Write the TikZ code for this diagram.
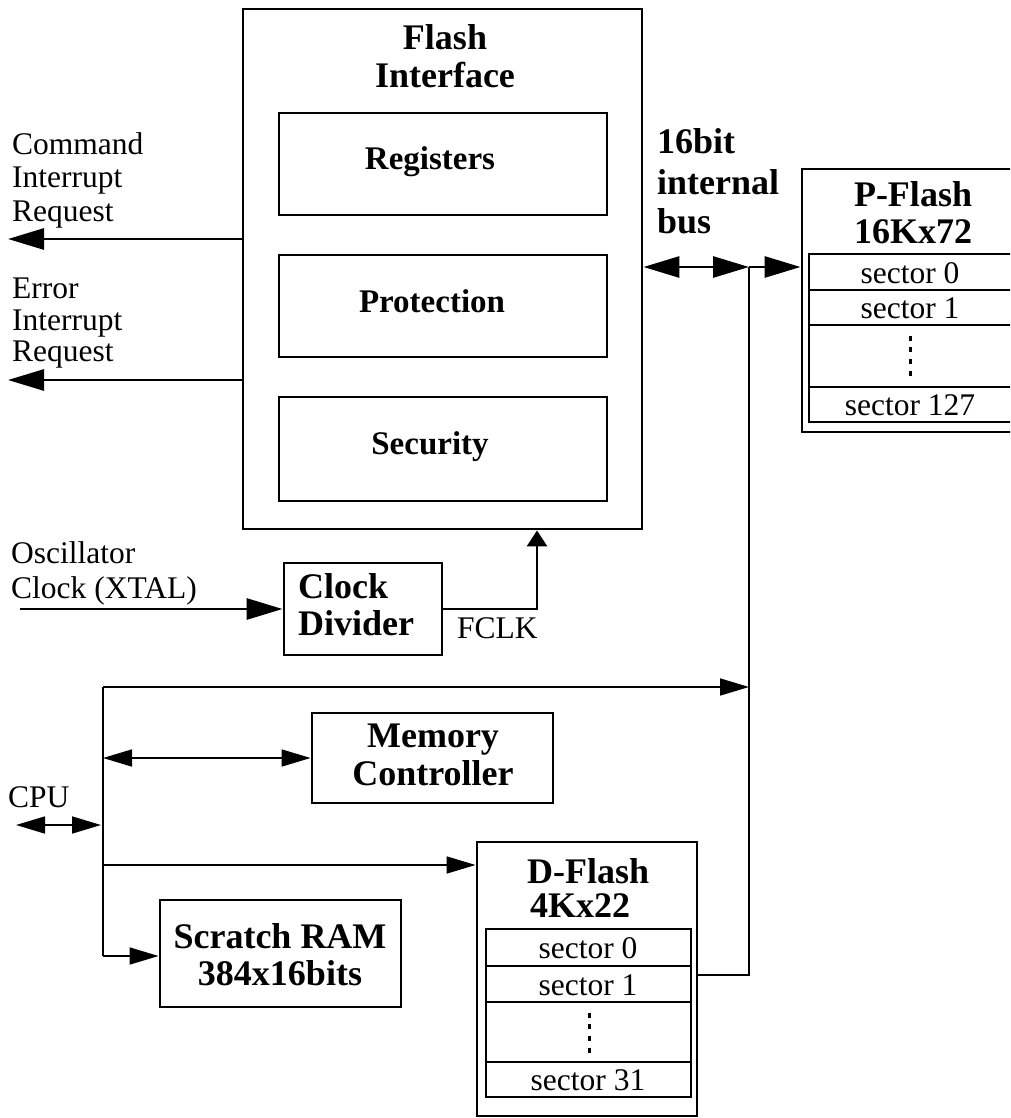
\documentclass[tikz,border=0pt]{standalone}
\usepackage{fontspec}
\setmainfont{Liberation Serif}
\usetikzlibrary{arrows.meta}
\newcommand\fbig{\fontsize{36}{38}\selectfont\bfseries}
\newcommand\finn{\fontsize{33}{35}\selectfont\bfseries}
\newcommand\freg{\fontsize{31.5}{33}\selectfont}
\begin{document}
\begin{tikzpicture}[x=1pt,y=-1pt,
  box/.style={draw, line width=2.9pt, inner sep=0pt, fill=none},
  thk/.style={line width=2.9pt},
  thn/.style={line width=1.7pt},
  bigarr/.style={thk, -{Triangle[length=36pt,width=21pt]}},
  dbigarr/.style={thk, {Triangle[length=36pt,width=21pt]}-{Triangle[length=36pt,width=21pt]}},
  smallarr/.style={thn, -{Triangle[length=29pt,width=17pt]}},
  dsmallarr/.style={thn, {Triangle[length=29pt,width=17pt]}-{Triangle[length=29pt,width=17pt]}},
  bl/.style={inner sep=0pt, anchor=base, font=\fbig},
  il/.style={inner sep=0pt, anchor=base, font=\finn},
  rl/.style={inner sep=0pt, anchor=base west, font=\freg},
  sl/.style={inner sep=0pt, anchor=base, font=\freg},
  dots/.style={line width=3pt, dash pattern=on 5pt off 6.7pt}
]
\useasboundingbox (0,0) rectangle (1010,1118);
\fill[white] (0,0) rectangle (1010,1118);
\clip (0,0) rectangle (1010,1118);

% ---------- Flash interface ----------
\node[box, minimum width=399pt, minimum height=520pt] (fi) at (442.5,269) {};
\node[bl] (fi1) at (445,50) {Flash};
\node[bl] (fi2) at (445,88) {Interface};
\node[box, minimum width=328pt, minimum height=102pt] (reg) at (443,164) {};
\node[box, minimum width=328pt, minimum height=102pt] (prot) at (443,306) {};
\node[box, minimum width=328pt, minimum height=104pt] (sec) at (443,449) {};
\node[il] (regt) at (430,170) {Registers};
\node[il] (prott) at (432,312) {Protection};
\node[il] (sect) at (430,454) {Security};

% ---------- interrupt requests ----------
\node[rl] (c1) at (12,155) {Command};
\node[rl] (c2) at (12,188) {Interrupt};
\node[rl] (c3) at (12,221) {Request};
\node[rl] (e1) at (12,298) {Error};
\node[rl] (e2) at (12,330) {Interrupt};
\node[rl] (e3) at (12,361) {Request};
\coordinate (cmdend) at (8,239);
\coordinate (errend) at (8,380);
\draw[bigarr] (cmdend -| fi.west) -- (cmdend);
\draw[bigarr] (errend -| fi.west) -- (errend);

% ---------- internal bus ----------
\node[inner sep=0pt, anchor=base west, font=\fbig] (b1) at (657,154) {16bit};
\node[inner sep=0pt, anchor=base west, font=\fbig] (b2) at (657,194) {internal};
\node[inner sep=0pt, anchor=base west, font=\fbig] (b3) at (657,233) {bus};

% ---------- P-Flash ----------
\node[box, minimum width=228pt, minimum height=263pt] (pf) at (916,300.5) {};
\node[box, minimum width=214pt, minimum height=168pt] (pfi) at (916,338) {};
\node[bl] (pft1) at (913,207) {P-Flash};
\node[bl] (pft2) at (913,243) {16Kx72};
\draw[thk] (pfi.west |- 0,290) -- (pfi.east |- 0,290);
\draw[thk] (pfi.west |- 0,325) -- (pfi.east |- 0,325);
\draw[thk] (pfi.west |- 0,387) -- (pfi.east |- 0,387);
\node[sl] (ps0) at (910,283) {sector 0};
\node[sl] (ps1) at (910,318) {sector 1};
\node[sl] (ps127) at (910,415) {sector 127};
\draw[dots] (910,335.5) -- (910,376);

\coordinate (bj) at (749,267);
\coordinate (bb) at (749,975);
\draw[dbigarr] (bj -| fi.east) -- (bj);
\draw[bigarr] (bj) -- (bj -| pf.west);

% ---------- Clock divider ----------
\node[rl] (o1) at (11,563) {Oscillator};
\node[rl] (o2) at (11,598) {Clock (XTAL)};
\node[box, minimum width=158pt, minimum height=92pt] (cd) at (363,609) {};
\node[inner sep=0pt, anchor=base west, font=\fbig] (cd1) at (298,598) {Clock};
\node[inner sep=0pt, anchor=base west, font=\fbig] (cd2) at (298,635) {Divider};
\coordinate (oscin) at (20,609);
\draw[bigarr] (oscin) -- (oscin -| cd.west);
\coordinate (fclkx) at (537,609);
\draw[thk, -{Triangle[length=16pt,width=20pt]}] (cd.east) -- (fclkx) -- (fclkx |- fi.south);
\node[rl] (fclk) at (457,638) {FCLK};

% ---------- Memory controller ----------
\node[box, minimum width=241pt, minimum height=90pt] (mc) at (432.5,758) {};
\node[bl] (mc1) at (433,747) {Memory};
\node[bl] (mc2) at (433,785) {Controller};

% ---------- Scratch RAM ----------
\node[box, minimum width=241pt, minimum height=107pt] (sr) at (280.5,953.5) {};
\node[bl] (sr1) at (280,948) {Scratch RAM};
\node[bl] (sr2) at (280,985) {384x16bits};

% ---------- D-Flash ----------
\node[box, minimum width=220pt, minimum height=274pt] (df) at (587,979) {};
\node[box, minimum width=205pt, minimum height=168pt] (dfi) at (588.5,1013) {};
\node[inner sep=0pt, anchor=base west, font=\fbig] (dft1) at (527,883) {D-Flash};
\node[inner sep=0pt, anchor=base west, font=\fbig] (dft2) at (530,917) {4Kx22};
\draw[thk] (dfi.west |- 0,966) -- (dfi.east |- 0,966);
\draw[thk] (dfi.west |- 0,1002) -- (dfi.east |- 0,1002);
\draw[thk] (dfi.west |- 0,1062) -- (dfi.east |- 0,1062);
\node[sl] (ds0) at (588,958) {sector 0};
\node[sl] (ds1) at (588,995) {sector 1};
\node[sl] (ds31) at (588,1090) {sector 31};
\draw[dots] (589,1012.5) -- (589,1053);

\draw[thk] (bj) -- (bb) -- (bb -| df.east);

% ---------- CPU bus ----------
\node[rl] (cpu) at (8,807) {CPU};
\coordinate (cputop) at (103,687);
\coordinate (cpubot) at (103,956);
\coordinate (dfin) at (103,865);
\coordinate (cpuin) at (16,825);
\draw[thn] (cputop) -- (cpubot);
\draw[smallarr] (cputop) -- (cputop -| bj);
\draw[dsmallarr] (mc.west -| cputop) -- (mc.west);
\draw[smallarr] (dfin) -- (dfin -| df.west);
\draw[smallarr] (cpubot) -- (cpubot -| sr.west);
\draw[dsmallarr] (cpuin) -- ([xshift=-2pt]cpuin -| cputop);
\end{tikzpicture}
\end{document}
